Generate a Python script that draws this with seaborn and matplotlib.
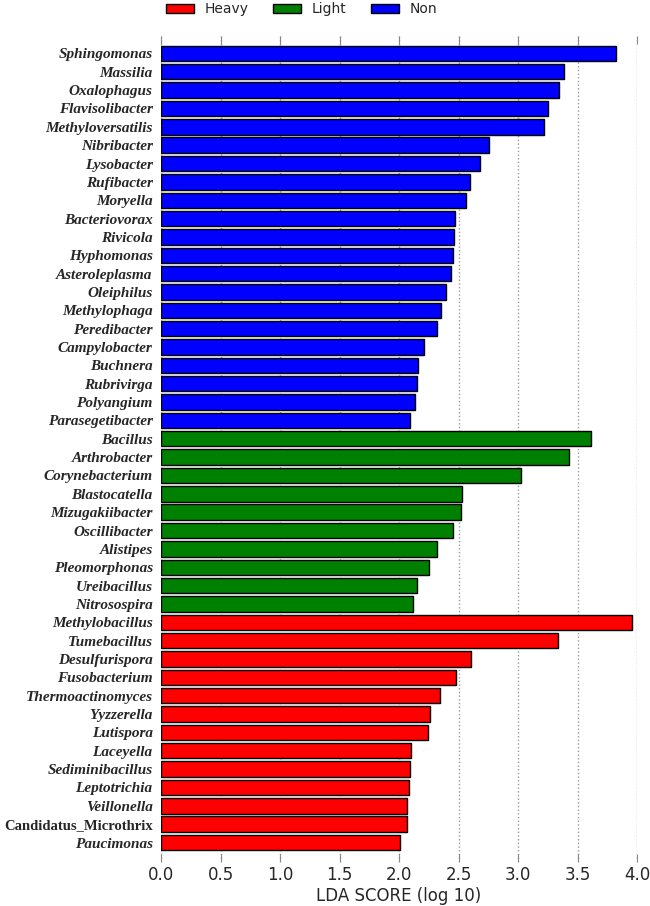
import matplotlib
matplotlib.use("Agg")
import matplotlib.pyplot as plt
import seaborn as sns
import pandas as pd

non_taxa = ["Sphingomonas", "Massilia", "Oxalophagus", "Flavisolibacter", "Methyloversatilis",
            "Nibribacter", "Lysobacter", "Rufibacter", "Moryella", "Bacteriovorax", "Rivicola",
            "Hyphomonas", "Asteroleplasma", "Oleiphilus", "Methylophaga", "Peredibacter",
            "Campylobacter", "Buchnera", "Rubrivirga", "Polyangium", "Parasegetibacter"]
non_scores = [3.82, 3.39, 3.345, 3.25, 3.22, 2.754, 2.68, 2.594, 2.566, 2.468, 2.46,
              2.45, 2.435, 2.395, 2.35, 2.32, 2.213, 2.163, 2.149, 2.135, 2.096]

light_taxa = ["Bacillus", "Arthrobacter", "Corynebacterium", "Blastocatella", "Mizugakiibacter",
              "Oscillibacter", "Alistipes", "Pleomorphonas", "Ureibacillus", "Nitrosospira"]
light_scores = [3.617, 3.43, 3.025, 2.533, 2.524, 2.45, 2.323, 2.255, 2.149, 2.12]

heavy_taxa = ["Methylobacillus", "Tumebacillus", "Desulfurispora", "Fusobacterium",
              "Thermoactinomyces", "Yyzzerella", "Lutispora", "Laceyella", "Sediminibacillus",
              "Leptotrichia", "Veillonella", "Candidatus_Microthrix", "Paucimonas"]
heavy_scores = [3.96, 3.34, 2.608, 2.477, 2.342, 2.258, 2.24, 2.10, 2.09, 2.084, 2.067, 2.07, 2.012]

groups = ["Heavy", "Light", "Non"]
group_colors = ["#FF0000", "#008000", "#0000FF"]
xticks = [0.0, 0.5, 1.0, 1.5, 2.0, 2.5, 3.0, 3.5, 4.0]

df = pd.DataFrame({
    "taxon": non_taxa + light_taxa + heavy_taxa,
    "score": non_scores + light_scores + heavy_scores,
    "group": ["Non"] * len(non_taxa) + ["Light"] * len(light_taxa) + ["Heavy"] * len(heavy_taxa),
})

sns.set_style("white")
fig = plt.figure(figsize=(6.5, 9.06), dpi=100)
ax = fig.add_axes([0.2477, 0.0486, 0.7323, 0.9117])

sns.barplot(data=df, x="score", y="taxon", hue="group", hue_order=groups,
            palette=dict(zip(groups, group_colors)), dodge=False, width=0.84,
            saturation=1, edgecolor="black", linewidth=1.0, ax=ax, orient="h", legend=True)

n = len(df)
ax.set_xlim(0, 4.0)
ax.set_ylim(n - 1 + 1.06, -0.95)
ax.set_xticks(xticks)
ax.set_xticklabels([f"{t:.1f}" for t in xticks], fontsize=12, family="DejaVu Sans")
ax.set_xlabel("LDA SCORE (log 10)", fontsize=12, family="DejaVu Sans", labelpad=2)
ax.set_ylabel("")

for lab in ax.get_yticklabels():
    txt = lab.get_text()
    lab.set_family("Liberation Serif")
    lab.set_fontweight("bold")
    if txt.startswith("Candidatus"):
        lab.set_fontstyle("normal")
        lab.set_fontsize(10.5)
    else:
        lab.set_fontstyle("italic")
        lab.set_fontsize(11)

ax.tick_params(axis="y", length=0, pad=6)
ax.tick_params(axis="x", direction="in", length=6, width=0.8, color="#888888",
               top=True, bottom=True, pad=3)
ax.xaxis.grid(True, linestyle=":", color="#999999", linewidth=1.0)
ax.yaxis.grid(False)
ax.set_axisbelow(True)
for s in ax.spines.values():
    s.set_visible(False)

handles, labels = ax.get_legend_handles_labels()
ax.legend_.remove()
fig.legend(handles, labels, loc="upper left", bbox_to_anchor=(0.252, 1.0), ncol=3,
           frameon=False, handlelength=2.0, handleheight=0.65, borderpad=0.15,
           borderaxespad=0.0,
           columnspacing=1.75, handletextpad=0.8, prop={"family": "DejaVu Sans", "size": 10})

fig.savefig("out.png", dpi=100)
